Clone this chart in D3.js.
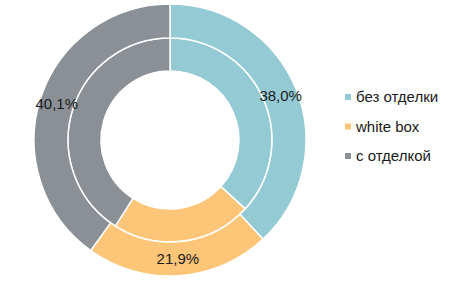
<!DOCTYPE html>
<meta charset="utf-8">
<style>
body { margin: 0; background: #fff; }
.chart text { font-family: "Liberation Sans", Arial, sans-serif; fill: #1a1a1a; }
</style>
<svg class="chart" width="471" height="290"></svg>
<script src="https://cdn.jsdelivr.net/npm/d3@7/dist/d3.min.js"></script>
<script>

const categories = ["без отделки", "white box", "с отделкой"];
const outerValues = [38.0, 21.9, 40.1];   // labelled ring
const innerValues = [36.8, 22.2, 41.0];
const colors = ["#93cad4", "#fcc577", "#8a9096"];

let cx = 170, cy = 140;

let svg = d3.select(".chart");
let g = svg.append("g").attr("transform", "translate(" + cx + "," + cy + ")");

let color = d3.scaleOrdinal().domain(categories).range(colors);
let pie = d3.pie().sort(null).value(d => d.value);

let innerArc = d3.arc().innerRadius(69).outerRadius(102);
let outerArc = d3.arc().innerRadius(102).outerRadius(136);

let toRows = vals => categories.map((c, i) => ({ name: c, value: vals[i] }));

g.selectAll("path.inner")
    .data(pie(toRows(innerValues)))
  .enter().append("path")
    .attr("class", "inner")
    .attr("d", innerArc)
    .attr("fill", d => color(d.data.name))
    .attr("stroke", "#fff")
    .attr("stroke-width", 1.5);

let outer = pie(toRows(outerValues));

g.selectAll("path.outer")
    .data(outer)
  .enter().append("path")
    .attr("class", "outer")
    .attr("d", outerArc)
    .attr("fill", d => color(d.data.name))
    .attr("stroke", "#fff")
    .attr("stroke-width", 1.5);

g.selectAll("text.lbl")
    .data(outer)
  .enter().append("text")
    .attr("class", "lbl")
    .attr("transform", d => "translate(" + outerArc.centroid(d) + ")")
    .attr("dy", "0.35em")
    .attr("text-anchor", "middle")
    .style("font-size", "15px")
    .text(d => d.data.value.toFixed(1).replace(".", ",") + "%");

// legend
let legend = svg.selectAll("g.legend")
    .data(categories)
  .enter().append("g")
    .attr("class", "legend")
    .attr("transform", (d, i) => "translate(345," + (97 + i * 29.5) + ")");

legend.append("rect")
    .attr("x", 0)
    .attr("y", -3)
    .attr("width", 6)
    .attr("height", 6)
    .attr("fill", d => color(d));

legend.append("text")
    .attr("x", 11)
    .attr("dy", "0.35em")
    .style("font-size", "15px")
    .text(d => d);

</script>
